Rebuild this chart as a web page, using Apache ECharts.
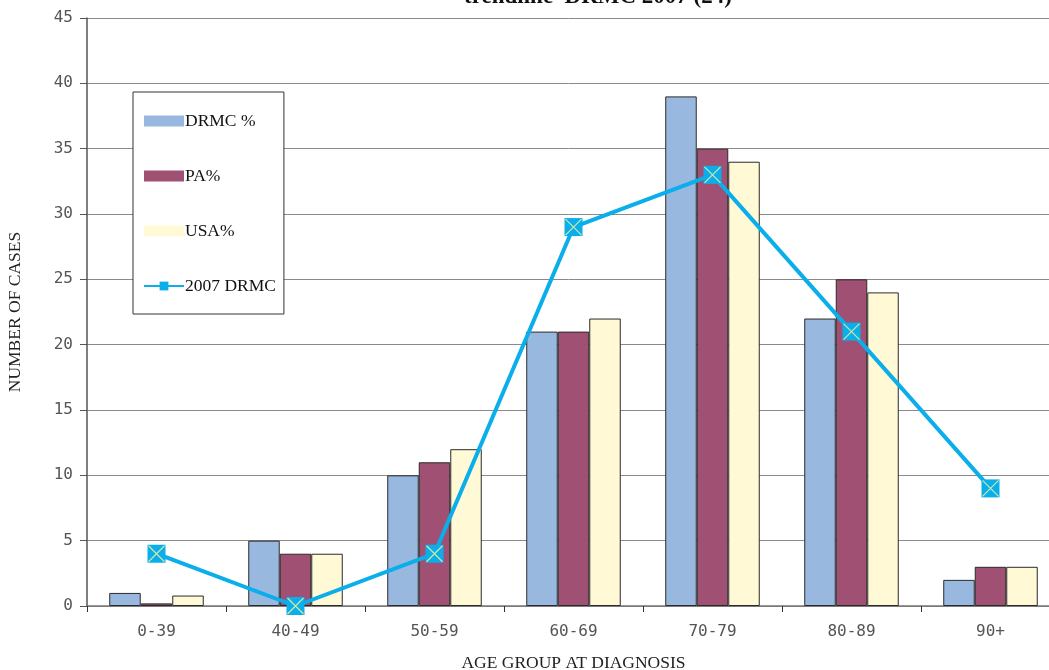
<!DOCTYPE html>
<html>
<head>
<meta charset="utf-8">
<script src="https://cdn.jsdelivr.net/npm/echarts@6/dist/echarts.min.js"></script>
<style>
  html, body { margin: 0; padding: 0; background: #fff; }
  #chart { width: 1049px; height: 670px; }
</style>
</head>
<body>
<div id="chart"></div>
<script>
// Age groups at diagnosis
const categories = ['0-39', '40-49', '50-59', '60-69', '70-79', '80-89', '90+'];
// Percentage distributions
const drmcPct = [1, 5, 10, 21, 39, 22, 2];
const paPct = [0.2, 4, 11, 21, 35, 25, 3];
const usaPct = [0.8, 4, 12, 22, 34, 24, 3];
// 2007 DRMC case counts (trend line)
const drmc2007 = [4, 0, 4, 29, 33, 21, 9];
const yTicks = { min: 0, max: 45, interval: 5 };

const serif = 'Liberation Serif';
const mono = 'DejaVu Sans Mono';
const barBorder = { borderColor: '#2a2a2a', borderWidth: 1 };

const chart = echarts.init(document.getElementById('chart'), null, { renderer: 'canvas' });
chart.setOption({
  animation: false,
  backgroundColor: '#ffffff',
  title: {
    text: 'trendline  DRMC 2007 (24)',
    left: 593,
    top: -19,
    textAlign: 'center',
    textStyle: { fontFamily: serif, fontWeight: 'bold', fontSize: 23, color: '#111' }
  },
  grid: { left: 87, top: 18, right: -11, bottom: 64, containLabel: false, outerBoundsMode: 'none' },
  legend: {
    orient: 'vertical',
    left: 133,
    top: 92,
    padding: [20, 8, 19, 10],
    itemGap: 37,
    itemWidth: 40,
    itemHeight: 11,
    backgroundColor: '#fff',
    borderColor: '#333',
    borderWidth: 1,
    textStyle: { fontFamily: serif, fontSize: 17.5, color: '#111', padding: [0, 0, 0, -4] },
    data: [
      { name: 'DRMC %', icon: 'rect', itemStyle: { borderWidth: 0 } },
      { name: 'PA%', icon: 'rect', itemStyle: { borderWidth: 0 } },
      { name: 'USA%', icon: 'rect', itemStyle: { borderWidth: 0 } },
      { name: '2007 DRMC' }
    ]
  },
  xAxis: {
    type: 'category',
    data: categories,
    name: 'AGE GROUP AT DIAGNOSIS',
    nameLocation: 'middle',
    nameGap: 48,
    nameTextStyle: { fontFamily: serif, fontSize: 17.5, color: '#222' },
    axisLine: { lineStyle: { color: '#777', width: 1.5 } },
    axisTick: { show: true, length: 6, lineStyle: { color: '#333' } },
    axisLabel: { fontFamily: mono, fontSize: 16, color: '#555', margin: 18 },
    splitLine: { show: false }
  },
  yAxis: {
    type: 'value',
    min: yTicks.min,
    max: yTicks.max,
    interval: yTicks.interval,
    name: 'NUMBER OF CASES',
    nameLocation: 'middle',
    nameGap: 63,
    nameRotate: 90,
    nameTextStyle: { fontFamily: serif, fontSize: 17.5, color: '#222' },
    axisLine: { show: true, lineStyle: { color: '#555', width: 1.5 } },
    axisTick: { show: true, length: 7, lineStyle: { color: '#555' } },
    axisLabel: { fontFamily: mono, fontSize: 16, color: '#555', margin: 14 },
    splitLine: { show: true, lineStyle: { color: '#8a8a8a', width: 1 } }
  },
  series: [
    {
      name: 'DRMC %', type: 'bar', data: drmcPct,
      barGap: '0%', barCategoryGap: '32%',
      itemStyle: Object.assign({ color: '#99B8E0' }, barBorder)
    },
    {
      name: 'PA%', type: 'bar', data: paPct,
      itemStyle: Object.assign({ color: '#A05072' }, barBorder)
    },
    {
      name: 'USA%', type: 'bar', data: usaPct,
      itemStyle: Object.assign({ color: '#FFF9D5' }, barBorder)
    },
    {
      name: '2007 DRMC', type: 'line', data: drmc2007,
      z: 5,
      symbol: 'rect', symbolSize: 18,
      lineStyle: { color: '#0AAEEA', width: 4 },
      itemStyle: { color: '#0AAEEA', borderColor: '#0AAEEA', borderWidth: 0 }
    },
    {
      // yellow cross drawn on each trend marker
      name: 'marker-cross', type: 'scatter', data: drmc2007,
      z: 6, silent: true,
      symbol: 'path://M0 0 L10 10 M10 0 L0 10',
      symbolSize: 16,
      itemStyle: { color: 'none', borderColor: '#FFF59A', borderWidth: 1.2 }
    }
  ]
});
</script>
</body>
</html>
